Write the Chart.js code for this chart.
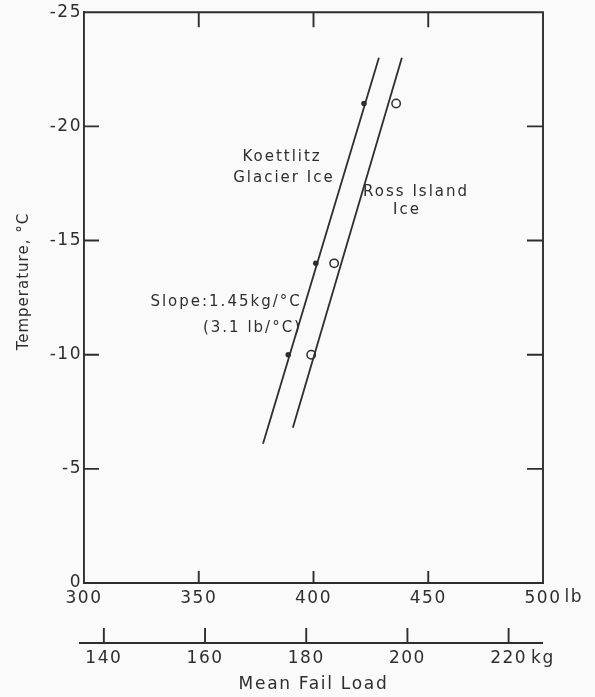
<!DOCTYPE html>
<html>
<head>
<meta charset="utf-8">
<script src="https://cdn.jsdelivr.net/npm/chart.js@4.4.0/dist/chart.umd.min.js"></script>
<style>
  html, body { margin: 0; padding: 0; background: #fafafa; }
  #wrap { width: 595px; height: 697px; }
</style>
</head>
<body>
<div id="wrap"><canvas id="failLoad"></canvas></div>
<script>
const LB_PER_KG = 2.20462;

// axis ticks
const tempTicks = [-25, -20, -15, -10, -5, 0];
const tempTickLabels = ['-25', '-20', '-15', '-10', '-5', '0'];
const lbTicks = [300, 350, 400, 450, 500];
const lbTickLabels = ['300', '350', '400', '450', '500'];
const kgTicks = [140, 160, 180, 200, 220];
const kgTickLabels = ['140', '160', '180', '200', '220'];

// measured mean fail loads (lb) at each temperature
const koettlitzTemp = [-21, -14, -10];
const koettlitzLoad = [422, 401, 389];
const rossTemp = [-21, -14, -10];
const rossLoad = [436, 409, 399];

// the two drawn fit lines, end to end
const koettlitzFitLoad = [378, 428.5];
const koettlitzFitTemp = [-6.1, -23];
const rossFitLoad = [391, 438.5];
const rossFitTemp = [-6.8, -23];

// text written on the plot, placed in data units
const notes = [
  {text: 'Koettlitz', lb: 386.3, t: -18.66},
  {text: 'Glacier Ice', lb: 387.1, t: -17.72},
  {text: 'Ross Island', lb: 444.7, t: -17.11},
  {text: 'Ice', lb: 440.7, t: -16.35},
  {text: 'Slope:1.45kg/°C', lb: 361.9, t: -12.3},
  {text: '(3.1 lb/°C)', lb: 373.4, t: -11.15}
];

const ink = '#2e2e2e';
const textInk = '#2e2e2e';
const family = '"DejaVu Sans", sans-serif';

function pairs(xs, ys) {
  return xs.map((v, i) => ({x: v, y: ys[i]}));
}

function setFont(ctx, size, spacing) {
  ctx.font = size + 'px ' + family;
  ctx.letterSpacing = spacing + 'px';
}

const paper = {
  id: 'paper',
  beforeDraw(chart) {
    chart.ctx.letterSpacing = '1.5px';
  },
  afterDraw(chart) {
    const {ctx, chartArea: a, scales} = chart;
    const x = scales.x, y = scales.y, kg = scales.kg;
    ctx.save();
    ctx.strokeStyle = ink;
    ctx.lineWidth = 1.9;

    // top and right side of the box
    ctx.beginPath();
    ctx.moveTo(a.left, a.top);
    ctx.lineTo(a.right, a.top);
    ctx.lineTo(a.right, a.bottom);
    ctx.stroke();

    // ticks pointing into the box
    ctx.beginPath();
    lbTicks.slice(1, -1).forEach(v => {
      const px = x.getPixelForValue(v);
      ctx.moveTo(px, a.bottom); ctx.lineTo(px, a.bottom - 12);
      ctx.moveTo(px, a.top); ctx.lineTo(px, a.top + 15);
    });
    tempTicks.slice(1, -1).forEach(v => {
      const py = y.getPixelForValue(v);
      ctx.moveTo(a.left, py); ctx.lineTo(a.left + 15, py);
      ctx.moveTo(a.right, py); ctx.lineTo(a.right - 16, py);
    });
    ctx.stroke();

    ctx.fillStyle = textInk;
    ctx.textBaseline = 'middle';

    // unit after the last lb label
    setFont(ctx, 17, 1.5);
    const last = lbTickLabels[lbTickLabels.length - 1];
    const lastPx = x.getPixelForValue(lbTicks[lbTicks.length - 1]);
    ctx.textAlign = 'left';
    ctx.fillText('lb', lastPx + ctx.measureText(last).width / 2 + 3, a.bottom + 15);

    // second load axis in kg
    const axisY = a.bottom + 60;
    ctx.beginPath();
    ctx.moveTo(a.left - 5, axisY);
    ctx.lineTo(a.right, axisY);
    kgTicks.forEach(v => {
      const px = kg.getPixelForValue(v);
      ctx.moveTo(px, axisY);
      ctx.lineTo(px, axisY - 15);
    });
    ctx.stroke();
    ctx.textAlign = 'center';
    kgTicks.forEach((v, i) => {
      ctx.fillText(kgTickLabels[i], kg.getPixelForValue(v), axisY + 16);
    });
    const kgLast = kgTickLabels[kgTickLabels.length - 1];
    ctx.textAlign = 'left';
    ctx.fillText('kg', kg.getPixelForValue(kgTicks[kgTicks.length - 1]) + ctx.measureText(kgLast).width / 2 + 4, axisY + 16);

    // axis titles
    setFont(ctx, 17, 1.7);
    ctx.textAlign = 'center';
    ctx.fillText('Mean Fail Load', (a.left + a.right) / 2, axisY + 42);

    setFont(ctx, 15, 1);
    ctx.save();
    ctx.translate(a.left - 60, (a.top + a.bottom) / 2 - 16);
    ctx.rotate(-Math.PI / 2);
    ctx.fillText('Temperature, °C', 0, 0);
    ctx.restore();

    // labels on the plot
    setFont(ctx, 15, 2);
    notes.forEach(n => {
      ctx.fillText(n.text, x.getPixelForValue(n.lb), y.getPixelForValue(n.t));
    });
    ctx.restore();
  }
};

Chart.defaults.font.family = family;
Chart.defaults.color = textInk;

new Chart(document.getElementById('failLoad'), {
  type: 'scatter',
  data: {
    datasets: [
      {
        label: 'Koettlitz fit',
        data: pairs(koettlitzFitLoad, koettlitzFitTemp),
        showLine: true,
        borderColor: ink,
        borderWidth: 1.8,
        pointRadius: 0
      },
      {
        label: 'Ross Island fit',
        data: pairs(rossFitLoad, rossFitTemp),
        showLine: true,
        borderColor: ink,
        borderWidth: 1.8,
        pointRadius: 0
      },
      {
        label: 'Koettlitz Glacier Ice',
        data: pairs(koettlitzLoad, koettlitzTemp),
        pointRadius: 2.8,
        pointBackgroundColor: ink,
        pointBorderWidth: 0
      },
      {
        label: 'Ross Island Ice',
        data: pairs(rossLoad, rossTemp),
        pointRadius: 4.2,
        pointBackgroundColor: 'rgba(0,0,0,0)',
        pointBorderColor: ink,
        pointBorderWidth: 1.5
      }
    ]
  },
  options: {
    responsive: true,
    maintainAspectRatio: false,
    animation: false,
    events: [],
    layout: {padding: {top: 11, right: 52, bottom: 84, left: 0}},
    plugins: {legend: {display: false}, tooltip: {enabled: false}},
    scales: {
      x: {
        type: 'linear',
        position: 'bottom',
        min: 300,
        max: 500,
        afterBuildTicks: s => { s.ticks = lbTicks.map(v => ({value: v})); },
        afterFit: s => { s.height = 30; },
        ticks: {
          font: {size: 17},
          padding: 5,
          maxRotation: 0,
          callback: v => lbTickLabels[lbTicks.indexOf(v)]
        },
        grid: {display: false, drawTicks: false},
        border: {display: true, color: ink, width: 1.9}
      },
      kg: {
        type: 'linear',
        position: 'bottom',
        display: false,
        min: 300 / LB_PER_KG,
        max: 500 / LB_PER_KG
      },
      y: {
        type: 'linear',
        min: -25,
        max: 0,
        reverse: true,
        afterBuildTicks: s => { s.ticks = tempTicks.map(v => ({value: v})); },
        afterFit: s => { s.width = 84; },
        ticks: {
          font: {size: 17},
          padding: 2,
          callback: v => tempTickLabels[tempTicks.indexOf(v)]
        },
        grid: {display: false, drawTicks: false},
        border: {display: true, color: ink, width: 1.9}
      }
    }
  },
  plugins: [paper]
});
</script>
</body>
</html>
